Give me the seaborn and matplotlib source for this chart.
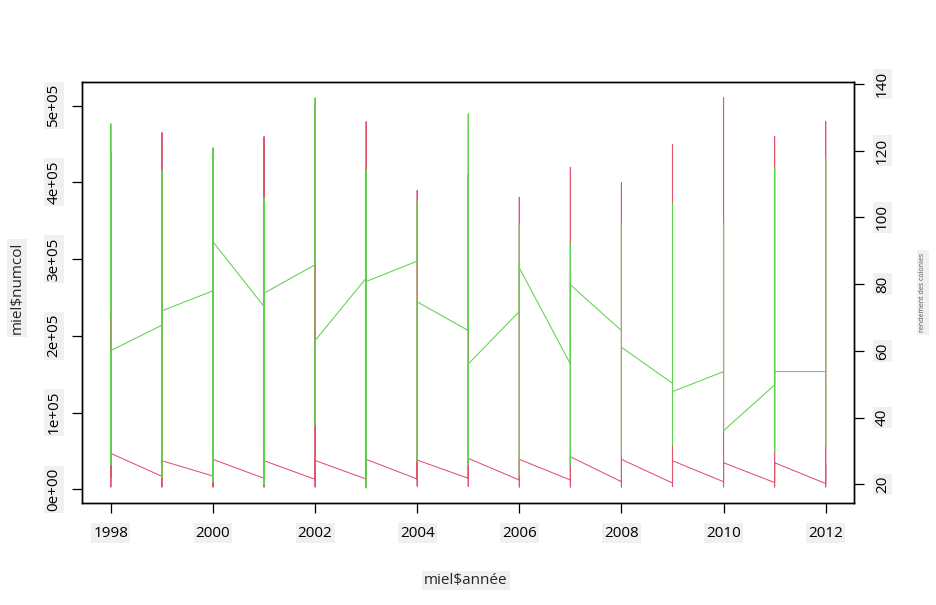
import numpy as np
import pandas as pd
import seaborn as sns
import matplotlib.pyplot as plt

# one entry per year; within a year the line passes first -> max -> min -> last
years = [1998, 1999, 2000, 2001, 2002, 2003, 2004, 2005,
         2006, 2007, 2008, 2009, 2010, 2011, 2012]

numcol_first = [16000, 16900, 17300, 14300, 13000, 13400, 13400, 14300,
                12100, 12100, 9900, 8200, 9900, 8800, 7500]
numcol_max = [440000, 464600, 420000, 459400, 500000, 478900, 389200, 410000,
              380500, 419500, 399600, 449000, 510000, 459400, 478900]
numcol_min = [3000, 3000, 3000, 3000, 3000, 2000, 4000, 4000,
              3000, 3000, 3000, 4000, 3000, 3000, 3000]
numcol_last = [46800, 37200, 39000, 37200, 37500, 39000, 38100, 40300,
               39000, 42400, 39000, 37200, 34600, 34600, 33000]

yield_first = [70.0, 67.7, 78.0, 73.3, 85.8, 81.8, 86.9, 66.1,
               71.8, 56.1, 66.1, 50.3, 53.8, 49.8, 53.8]
yield_max = [128.0, 114.0, 120.8, 105.9, 135.8, 114.0, 104.9, 131.0,
             98.1, 92.3, 98.1, 104.0, 98.1, 114.9, 117.9]
yield_min = [25.8, 22.1, 20.8, 19.8, 37.8, 19.0, 26.8, 25.8,
             22.8, 25.8, 28.8, 31.8, 36.0, 29.8, 31.8]
yield_last = [60.1, 72.0, 92.7, 77.3, 63.1, 80.8, 74.7, 56.1,
              84.9, 79.8, 61.1, 47.8, 36.1, 53.8, 50.0]

xticks = [1998, 2000, 2002, 2004, 2006, 2008, 2010, 2012]
left_ticks = [0, 100000, 200000, 300000, 400000, 500000]
left_labels = ["0e+00", "1e+05", "2e+05", "3e+05", "4e+05", "5e+05"]
right_ticks = [20, 40, 60, 80, 100, 120, 140]

RED = "#DF536B"
GREEN = "#61D04F"
BOX = "#f0f0f0"


def path(first, hi, lo, last):
    rows = []
    for i, y in enumerate(years):
        for v in (first[i], hi[i], lo[i], last[i]):
            rows.append((y, v))
    return pd.DataFrame(rows, columns=["annee", "val"])


def r_lim(vals):
    # same padding as R's default xaxs/yaxs = "r"
    lo, hi = min(vals), max(vals)
    d = 0.04 * (hi - lo)
    return lo - d, hi + d


sns.set_theme(style="ticks")
plt.rcParams["font.family"] = ["Open Sans", "DejaVu Sans"]

fig = plt.figure(figsize=(9.37, 6.05), dpi=100)
ax = fig.add_axes([0.0878, 0.168, 0.8239, 0.696])

df_num = path(numcol_first, numcol_max, numcol_min, numcol_last)
df_yld = path(yield_first, yield_max, yield_min, yield_last)

sns.lineplot(data=df_num, x="annee", y="val", sort=False, estimator=None,
             color=RED, lw=0.75, ax=ax)
ax.set_xlim(*r_lim(years))
ax.set_ylim(*r_lim(df_num["val"]))
ax.set_xticks(xticks)
ax.set_xticklabels([str(t) for t in xticks])
ax.set_yticks(left_ticks)
ax.set_yticklabels(left_labels, rotation=90, va="center")
ax.set_xlabel("")
ax.set_ylabel("")

ax2 = ax.twinx()
sns.lineplot(data=df_yld, x="annee", y="val", sort=False, estimator=None,
             color=GREEN, lw=0.75, ax=ax2)
ax2.set_ylim(*r_lim(df_yld["val"]))
ax2.set_yticks(right_ticks)
ax2.set_yticklabels([str(t) for t in right_ticks], rotation=90, va="center")
ax2.set_ylabel("")

for a in (ax, ax2):
    for s in a.spines.values():
        s.set_color("black")
        s.set_linewidth(1.0)
    a.tick_params(colors="black", length=7, width=0.9, labelsize=11)

ax.tick_params(axis="x", pad=9)
ax.tick_params(axis="y", pad=8)
ax2.tick_params(axis="y", pad=8)

for lab in ax.get_xticklabels() + ax.get_yticklabels() + ax2.get_yticklabels():
    lab.set_bbox(dict(facecolor=BOX, edgecolor="none", pad=1.5))

fig.text(0.018, 0.524, "miel$numcol", rotation=90, ha="center", va="center",
         fontsize=11, bbox=dict(facecolor=BOX, edgecolor="none", pad=2))
fig.text(0.497, 0.041, "miel$année", ha="center", va="center",
         fontsize=11, bbox=dict(facecolor=BOX, edgecolor="none", pad=1.5))
fig.text(0.985, 0.516, "rendement des colonies", rotation=90, ha="center",
         va="center", fontsize=5, color="#555555",
         bbox=dict(facecolor=BOX, edgecolor="none", pad=2))

fig.savefig("out.png", dpi=100)
